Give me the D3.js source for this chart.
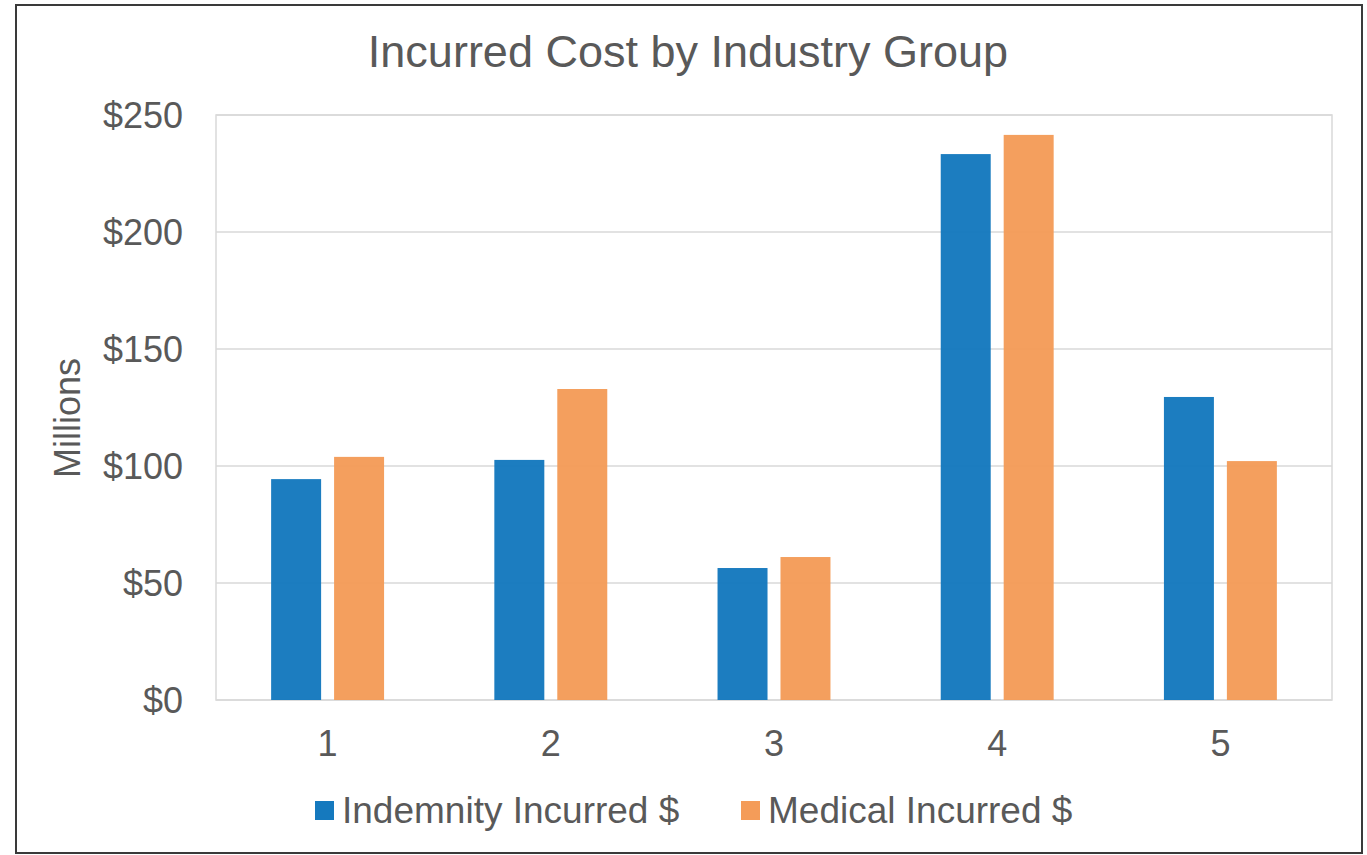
<!DOCTYPE html>
<html><head><meta charset="utf-8">
<script src="https://cdn.jsdelivr.net/npm/d3@7"></script>
<style>body{margin:0;background:#fff}svg{display:block}text{font-family:"Liberation Sans",Arial,sans-serif;fill:#595959}</style>
</head><body>
<script>
const categories = ["1","2","3","4","5"];
const seriesNames = ["Indemnity Incurred $","Medical Incurred $"];
const indemnity = [94.4, 102.6, 56.4, 233.3, 129.5];
const medical = [103.9, 132.9, 61.1, 241.5, 102.1];
const yTicks = [0,50,100,150,200,250];
const colors = ["#1579BE","#F49C59"];

const W=1367,H=855;
const m={left:216,right:1332,top:115,bottom:700};
const svg=d3.select("body").append("svg").attr("width",W).attr("height",H);
svg.append("rect").attr("x",16).attr("y",5).attr("width",1346).attr("height",848)
  .attr("fill","#fff").attr("stroke","#3a3a3a").attr("stroke-width",2);

const x0=d3.scaleBand().domain(categories).range([m.left,m.right]).paddingInner(0.494).paddingOuter(0.247);
const x1=d3.scaleBand().domain(seriesNames).range([0,x0.bandwidth()]).paddingInner(0.206);
const y=d3.scaleLinear().domain([0,250]).range([m.bottom,m.top]);

// gridlines
svg.append("g").selectAll("line").data(yTicks).join("line")
  .attr("x1",m.left).attr("x2",m.right).attr("y1",d=>y(d)).attr("y2",d=>y(d))
  .attr("stroke","#d9d9d9").attr("stroke-width",1.5);
svg.append("rect").attr("x",m.left).attr("y",m.top).attr("width",m.right-m.left).attr("height",m.bottom-m.top)
  .attr("fill","none").attr("stroke","#d9d9d9").attr("stroke-width",1.5);

// y axis
const yAxis=d3.axisLeft(y).tickValues(yTicks).tickFormat(d=>"$"+d).tickSize(0).tickPadding(33);
const ga=svg.append("g").attr("transform",`translate(${m.left},0)`).call(yAxis);
ga.select(".domain").remove();
ga.selectAll("text").style("font-size","36px").attr("fill","#595959").attr("font-family","Liberation Sans, Arial, sans-serif").attr("dy","0.35em");

// x axis
const xAxis=d3.axisBottom(x0).tickSize(0).tickPadding(30);
const gx=svg.append("g").attr("transform",`translate(0,${m.bottom})`).call(xAxis);
gx.select(".domain").remove();
gx.selectAll("text").style("font-size","36px").attr("fill","#595959").attr("font-family","Liberation Sans, Arial, sans-serif");

// bars
const data=categories.map((c,i)=>({c,vals:[indemnity[i],medical[i]]}));
const g=svg.append("g");
g.selectAll("g").data(data).join("g").attr("transform",d=>`translate(${x0(d.c)},0)`)
  .selectAll("rect").data(d=>d.vals.map((v,j)=>({v,s:seriesNames[j],j}))).join("rect")
  .attr("x",d=>x1(d.s)).attr("width",x1.bandwidth())
  .attr("y",d=>y(d.v)).attr("height",d=>y(0)-y(d.v))
  .attr("fill",d=>colors[d.j]).attr("fill-opacity",0.97);

// title
svg.append("text").attr("x",688).attr("y",67).attr("text-anchor","middle").style("font-size","45px").text("Incurred Cost by Industry Group");
// y label
svg.append("text").attr("transform","translate(80,418) rotate(-90)").attr("text-anchor","middle").style("font-size","36px").text("Millions");

// legend
const legX=[315,741];
const lg=svg.append("g");
seriesNames.forEach((s,i)=>{
  lg.append("rect").attr("x",legX[i]).attr("y",801).attr("width",19).attr("height",19).attr("fill",colors[i]);
  lg.append("text").attr("x",legX[i]+27).attr("y",823).style("font-size","37px").text(s);
});
</script>
</body></html>
